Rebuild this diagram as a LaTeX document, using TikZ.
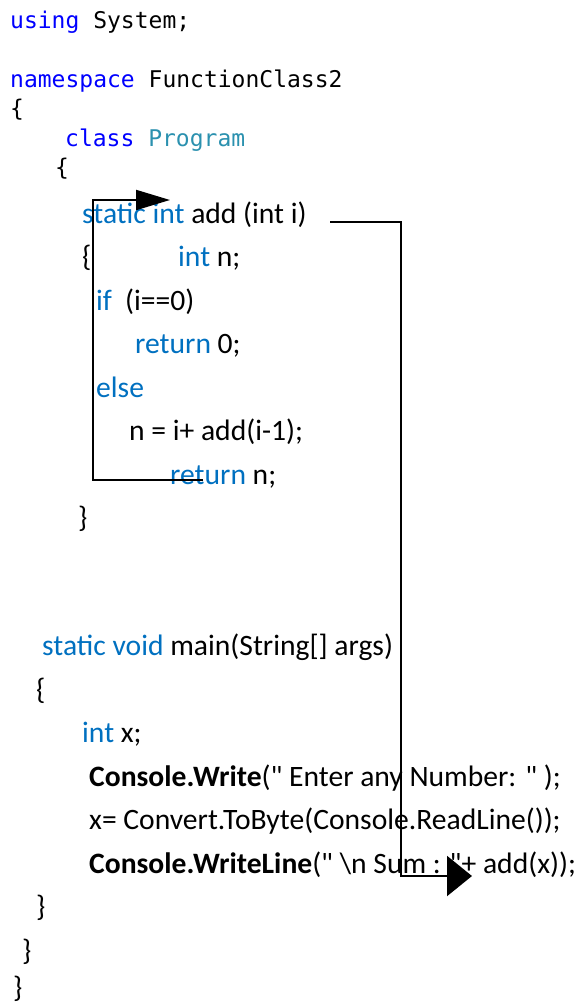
\documentclass[tikz,border=0pt]{standalone}
\usepackage{fontspec}
\setmainfont{Carlito}[Ligatures=TeXOff]
\newfontfamily\codefont{DejaVu Sans Mono}
\usetikzlibrary{arrows.meta}
\definecolor{kwmono}{RGB}{0,0,255}
\definecolor{typemono}{RGB}{43,145,175}
\definecolor{kwblue}{RGB}{0,112,192}
\newcommand{\dq}{\symbol{34}}
\tikzset{
  mono/.style={anchor=base west, inner sep=0pt, font=\codefont\fontsize{23}{23}\selectfont},
  txt/.style={anchor=base west, inner sep=0pt, font=\fontsize{29.6}{29.6}\selectfont},
  kw/.style={txt, text=kwblue},
  flow/.style={draw=black, line width=2pt},
}
\begin{document}
\begin{tikzpicture}[x=1pt,y=-1pt]
\useasboundingbox (0,0) rectangle (582,1004);
% monospace header
\node[mono] (using) at (10,28) {\textcolor{kwmono}{using} System;};
\node[mono] (ns) at (10,87) {\textcolor{kwmono}{namespace} FunctionClass2};
\node[mono] (nsopen) at (10,116.5) {\{};
\node[mono] (cls) at (65,146) {\textcolor{kwmono}{class} \textcolor{typemono}{Program}};
\node[mono] (clsopen) at (55,175.5) {\{};
% add function
\node[txt] (addsig) at (82,223) {\textcolor{kwblue}{static int} add (int i)};
\node[txt] (addopen) at (82,266.5) {\{};
\node[txt] (intn) at (178,266.5) {\textcolor{kwblue}{int} n;};
\node[kw] (if) at (96,310) {if};
\node[txt] (cond) at (125,310) {(i==0)};
\node[txt] (ret0) at (135,353.5) {\textcolor{kwblue}{return} 0;};
\node[kw] (else) at (96,397) {else};
\node[txt] (rec) at (129,440.5) {n = i+ add(i-1);};
\node[txt] (retn) at (170,484) {\textcolor{kwblue}{return} n;};
\node[txt] (addclose) at (78,527.5) {\}};
% main
\node[txt] (mainsig) at (42,655.5) {\textcolor{kwblue}{static void} main(String[] args)};
\node[txt] (mainopen) at (36,699) {\{};
\node[txt] (intx) at (82,742.5) {\textcolor{kwblue}{int} x;};
\node[txt] (write) at (89,786) {\textbf{Console.Write}(\dq{} Enter any Number: \dq{} );};
\node[txt] (conv) at (89,829.5) {x= Convert.ToByte(Console.ReadLine());};
\node[txt] (wline) at (89,873) {\textbf{Console.WriteLine}(\dq{} \textbackslash n Sum : \dq+ add(x));};
\node[txt] (mainclose) at (36,916.5) {\}};
\node[txt] (clsclose) at (22,960) {\}};
\node[txt] (nsclose) at (13,997) {\}};
% connectors
\coordinate (loopstart) at (203,480);
\coordinate (loopbl) at (93,480);
\coordinate (looptl) at (93,200);
\coordinate (looptip) at (170,200);
\draw[flow, -{Triangle[length=34pt,width=20pt]}] (loopstart) -- (loopbl) -- (looptl) -- (looptip);
\coordinate (callstart) at (330,222);
\coordinate (calltr) at (401,222);
\coordinate (callbr) at (401,876);
\coordinate (calltip) at (472,876);
\draw[flow, line width=2.2pt, -{Triangle[length=25pt,width=40pt]}] (callstart) -- (calltr) -- (callbr) -- (calltip);
\end{tikzpicture}
\end{document}
